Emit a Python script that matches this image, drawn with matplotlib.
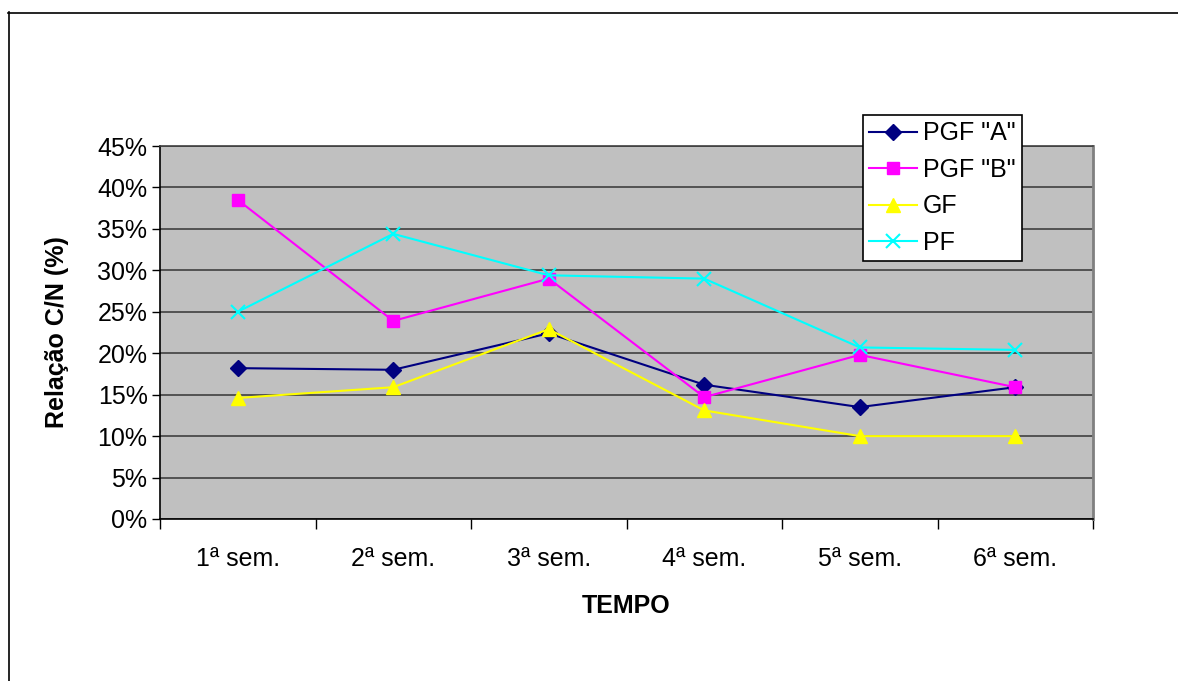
import numpy as np
import matplotlib.pyplot as plt
from matplotlib.lines import Line2D
from matplotlib.ticker import PercentFormatter

plt.rcParams['font.family'] = ['Liberation Sans', 'DejaVu Sans']

semanas = ["1ª sem.", "2ª sem.", "3ª sem.", "4ª sem.", "5ª sem.", "6ª sem."]
pgf_a = [18.2, 18.0, 22.4, 16.2, 13.5, 15.9]
pgf_b = [38.5, 23.9, 29.0, 14.7, 19.8, 15.9]
gf = [14.6, 15.9, 22.9, 13.1, 10.0, 10.0]
pf = [25.0, 34.4, 29.4, 29.0, 20.7, 20.4]

W, H = 1178, 681
fig = plt.figure(figsize=(W / 100, H / 100), dpi=100)
ax = fig.add_axes([160 / W, 1 - 519 / H, 933 / W, 373 / H])
ax.set_facecolor("#C0C0C0")

x = np.arange(len(semanas)) + 0.5
ax.plot(x, pgf_a, color="#000080", lw=1.5, marker="D", ms=8, label='PGF "A"')
ax.plot(x, pgf_b, color="#FF00FF", lw=1.5, marker="s", ms=9, label='PGF "B"')
ax.plot(x, gf, color="#FFFF00", lw=1.5, marker="^", ms=10, label="GF")
ax.plot(x, pf, color="#00FFFF", lw=1.5, marker="x", ms=10, mew=1.5, label="PF")

ax.set_xlim(0, 6)
ax.set_ylim(0, 45)
ax.set_yticks(np.arange(0, 46, 5))
ax.yaxis.set_major_formatter(PercentFormatter(decimals=0))
ax.set_xticks(x)
ax.set_xticklabels(semanas)
ax.set_xticks(np.arange(0, 7), minor=True)
ax.tick_params(axis="x", which="major", length=0, pad=20, labelsize=18)
ax.tick_params(axis="x", which="minor", length=7, width=1, direction="out")
ax.tick_params(axis="y", length=6, width=1, direction="out", pad=3, labelsize=18)

ax.grid(axis="y", color="#404040", lw=1.2)
ax.set_axisbelow(True)
for s in ["left", "bottom"]:
    ax.spines[s].set_color("black")
    ax.spines[s].set_linewidth(1.2)
ax.spines["right"].set_color("#808080")
ax.spines["right"].set_linewidth(2)
ax.spines["top"].set_color("#404040")
ax.spines["top"].set_linewidth(1.2)

ax.set_xlabel("TEMPO", fontsize=18, fontweight="bold")
ax.xaxis.set_label_coords(0.5, -0.2)
ax.set_ylabel("Relação C/N (%)", fontsize=18, fontweight="bold")
ax.yaxis.set_label_coords(-0.098, 0.5)

leg = ax.legend(loc="upper left", bbox_to_anchor=(863 / W, 1 - 115 / H),
                bbox_transform=fig.transFigure, fontsize=18, frameon=True,
                fancybox=False, edgecolor="black", framealpha=1,
                handlelength=1.9, handletextpad=0.25, labelspacing=0.5,
                borderpad=0.25, borderaxespad=0)
leg.get_frame().set_linewidth(1.2)

# moldura externa do gráfico
fig.add_artist(Line2D([8 / W, 1], [1 - 12.5 / H, 1 - 12.5 / H],
                      transform=fig.transFigure, color="black", lw=1.2))
fig.add_artist(Line2D([8.5 / W, 8.5 / W], [0, 1 - 12 / H],
                      transform=fig.transFigure, color="black", lw=1.2))

fig.savefig("out.png", dpi=100)
